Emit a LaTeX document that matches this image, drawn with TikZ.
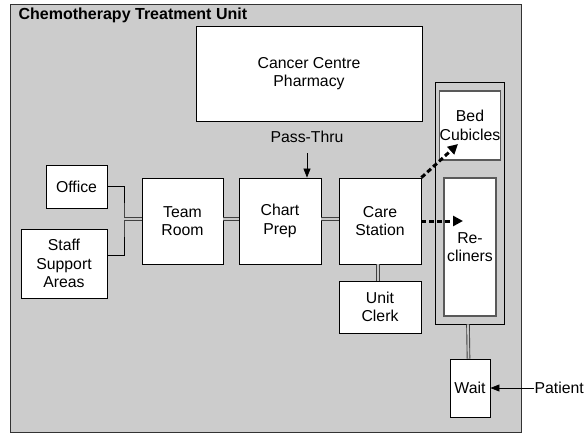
\documentclass[tikz,border=0pt]{standalone}
\usepackage{fontspec}
\setmainfont{Liberation Sans}
\usepackage{tikz}
\usetikzlibrary{arrows.meta}

\definecolor{unitgray}{HTML}{CCCCCC}

\begin{document}
\begin{tikzpicture}[x=1pt, y=-1pt, >={Triangle[length=9pt, width=7pt]}, inner sep=0.25pt, line width=0.8pt,
    font=\fontsize{15.8}{18.5}\selectfont,
    room/.style={draw, fill=white, align=center},
    bay/.style={draw=black!65, line width=1.2pt, fill=white, align=center},
    link/.style={draw=black!75, double=black!22, double distance=1.8pt, line width=0.9pt},
    flow/.style={-{Triangle[length=10pt, width=10pt]}, line width=3pt, dash pattern=on 5pt off 3pt}]
                    \useasboundingbox (0,0) rectangle (584,433);

                    % the unit
                    \draw [fill=unitgray, draw=black!80] (10,4) rectangle (521,432);
                    \node [anchor=base west, font=\fontsize{16}{18}\selectfont\bfseries] (title) at (18,19.5) {Chemotherapy Treatment Unit};

                    \node [room, minimum width=226pt, minimum height=95pt] (pharmacy) at (309,73.5) {Cancer Centre\\Pharmacy};
                    \node (passthru) at (307,137) {Pass-Thru};

                    \node [room, minimum width=61pt, minimum height=43pt] (office) at (76.5,186.5) {Office};
                    \node [room, minimum width=86pt, minimum height=69pt] (staff) at (64,263.5) {Staff\\Support\\Areas};
                    \node [room, minimum width=81pt, minimum height=86pt] (team) at (182.5,221) {Team\\Room};
                    \node [room, minimum width=82pt, minimum height=86pt] (chart) at (280,221) {Chart\\Prep};
                    \node [room, minimum width=82pt, minimum height=86pt] (care) at (380,221) {Care\\Station};
                    \node [room, minimum width=82pt, minimum height=52pt] (clerk) at (380,307) {Unit\\Clerk};

                    % treatment area
                    \node [draw, minimum width=69pt, minimum height=242pt] (treat) at (469.5,203) {};
                    \node [bay, minimum width=52pt, minimum height=69pt] (bed) at (470,125.5) {Bed\\Cubicles};
                    \node [bay, minimum width=52pt, minimum height=138pt] (recliners) at (470,247) {Re-\\cliners};

                    \node [room, minimum width=40pt, minimum height=58pt] (wait) at (470,388) {Wait};
                    \node [anchor=west] (patient) at (534,388) {Patient};

                    \coordinate (junction) at (124,219);
                    \coordinate (bedin) at (458,144);
                    \coordinate (reclin) at (463,221);

                    % connectors
                    \draw (office.east) -| (junction) |- ([yshift=8.5pt]staff.east);
                    \draw [link] (junction) -- (team.west |- junction);
                    \draw [link] (team.east |- junction) -- (chart.west |- junction);
                    \draw [link] (chart.east |- junction) -- (care.west |- junction);
                    \draw [link] ([xshift=-2pt]care.south) -- ([xshift=-2pt]clerk.north);
                    \draw [link] ([xshift=-1.5pt]treat.south) -- ([xshift=-1.5pt]wait.north);

                    \draw [->] ([yshift=-10pt]passthru.south) -- (chart.north -| passthru);
                    \draw [->] (patient.west) -- (wait.east);

                    \draw [flow] (care.north east) -- (bedin);
                    \draw [flow] (care.east) -- (reclin);
                \end{tikzpicture}
\end{document}
